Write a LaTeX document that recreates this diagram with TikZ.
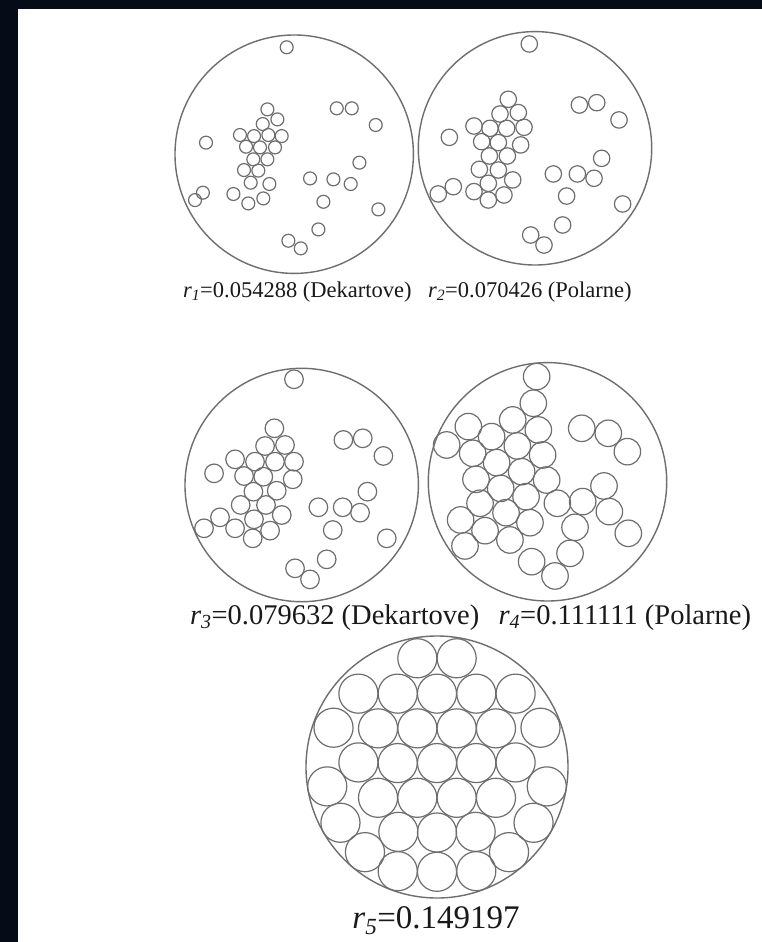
\documentclass[tikz,border=0pt]{standalone}
\usepackage{fontspec}
\setmainfont{Liberation Serif}
\definecolor{frame}{RGB}{6,11,24}
\definecolor{ink}{RGB}{25,25,25}
\definecolor{ring}{RGB}{110,110,110}
\newcommand\drawpack[5]{%
  \draw[bigring] (#1,#2) circle[radius=#3pt];
  \pgfmathsetmacro\smallr{#3*#4}%
  \foreach \u/\v in {#5} {\draw[smallring] ({#1+#3*\u},{#2+#3*\v}) circle[radius=\smallr pt];}%
}
\begin{document}
\begin{tikzpicture}[x=1pt,y=-1pt,
  bigring/.style={draw=ring,line width=1.4pt},
  smallring/.style={draw=ring,line width=1.2pt},
  lab/.style={text=ink,inner sep=0pt,outer sep=0pt}]
\fill[frame] (0,0) rectangle (762,942);
\fill[white] (18,9) rectangle (762,942);
\useasboundingbox (0,0) rectangle (762,942);
% circle 1
\drawpack{294.2}{154.2}{119.2}{0.054288}{-0.063/-0.897,-0.225/-0.376,-0.141/-0.292,-0.264/-0.253,-0.455/-0.161,-0.337/-0.152,-0.217/-0.161,-0.105/-0.152,-0.404/-0.063,-0.287/-0.057,-0.161/-0.057,-0.343/0.043,-0.225/0.043,-0.421/0.133,-0.301/0.138,-0.365/0.239,-0.208/0.250,-0.510/0.334,-0.385/0.413,-0.259/0.371,-0.740/-0.097,-0.832/0.385,-0.766/0.323,0.357/-0.385,0.483/-0.385,0.684/-0.245,0.547/0.071,0.133/0.203,0.329/0.211,0.474/0.250,0.245/0.399,0.706/0.463,0.203/0.631,-0.049/0.726,0.055/0.790}
% circle 2
\drawpack{535}{148.3}{116.7}{0.070426}{-0.049/-0.894,-0.229/-0.420,-0.300/-0.294,-0.143/-0.306,-0.523/-0.191,-0.386/-0.171,-0.243/-0.171,-0.094/-0.180,-0.457/-0.057,-0.314/-0.049,-0.123/-0.029,-0.391/0.066,-0.237/0.066,-0.477/0.180,-0.314/0.186,-0.400/0.300,-0.191/0.271,-0.523/0.371,-0.400/0.443,-0.266/0.400,-0.734/-0.094,-0.829/0.391,-0.700/0.329,0.380/-0.371,0.529/-0.391,0.720/-0.243,0.571/0.086,0.157/0.220,0.363/0.220,0.506/0.257,0.271/0.409,0.751/0.477,0.237/0.657,-0.037/0.743,0.077/0.829}
% circle 3
\drawpack{301.7}{485}{116.7}{0.079632}{-0.066/-0.906,-0.234/-0.486,-0.314/-0.334,-0.143/-0.343,-0.571/-0.220,-0.400/-0.200,-0.229/-0.200,-0.066/-0.200,-0.494/-0.077,-0.329/-0.071,-0.077/-0.049,-0.414/0.057,-0.214/0.049,-0.523/0.171,-0.306/0.171,-0.409/0.294,-0.171/0.257,-0.571/0.371,-0.420/0.457,-0.271/0.391,-0.751/-0.100,-0.837/0.371,-0.700/0.277,0.357/-0.386,0.523/-0.400,0.700/-0.249,0.563/0.057,0.143/0.191,0.351/0.191,0.500/0.237,0.266/0.386,0.729/0.457,0.214/0.637,-0.057/0.714,0.071/0.809}
% circle 4
\drawpack{547.5}{481.8}{119.2}{0.111111}{-0.091/-0.883,-0.119/-0.659,-0.292/-0.519,-0.077/-0.435,-0.664/-0.463,-0.846/-0.309,-0.469/-0.379,-0.253/-0.301,-0.628/-0.239,-0.041/-0.225,-0.427/-0.161,-0.217/-0.085,-0.600/-0.021,-0.007/-0.015,-0.393/0.055,-0.180/0.125,-0.566/0.180,0.083/0.180,0.295/0.166,0.474/0.035,0.519/0.250,0.678/0.432,-0.348/0.259,-0.147/0.343,-0.729/0.320,-0.524/0.410,-0.315/0.488,-0.692/0.538,0.231/0.382,0.189/0.600,-0.133/0.670,0.063/0.790,0.287/-0.449,0.510/-0.407,0.670/-0.253}
% circle 5
\drawpack{437}{767}{131}{0.149197}{-0.15/-0.83,0.15/-0.83,-0.6/-0.56,-0.3/-0.56,0/-0.56,0.3/-0.56,0.6/-0.56,-0.79/-0.30,-0.45/-0.295,-0.15/-0.295,0.15/-0.295,0.45/-0.295,0.79/-0.30,-0.6/-0.035,-0.3/-0.03,0/-0.03,0.3/-0.03,0.6/-0.035,-0.45/0.235,-0.15/0.235,0.15/0.235,0.45/0.235,-0.838/0.148,0.838/0.148,-0.737/0.4255,0.737/0.4255,-0.55/0.65,0.55/0.65,-0.295/0.495,0/0.50,0.295/0.495,-0.30/0.795,0/0.80,0.30/0.795}
% labels
\node[lab,anchor=base west,font=\fontsize{22.5}{26}\selectfont] (lab1) at (183,297) {\textit{r}\textsubscript{\textit{1}}=0.054288 (Dekartove)};
\node[lab,anchor=base west,font=\fontsize{22.5}{26}\selectfont] (lab2) at (428,297) {\textit{r}\textsubscript{\textit{2}}=0.070426 (Polarne)};
\node[lab,anchor=base west,font=\fontsize{28.5}{32}\selectfont] (lab3) at (190,624) {\textit{r}\textsubscript{\textit{3}}=0.079632 (Dekartove)};
\node[lab,anchor=base east,font=\fontsize{28.5}{32}\selectfont] (lab4) at (751,624) {\textit{r}\textsubscript{\textit{4}}=0.111111 (Polarne)};
\node[lab,anchor=base,font=\fontsize{33}{36}\selectfont] (lab5) at (436,928) {\textit{r}\textsubscript{\textit{5}}=0.149197};
\end{tikzpicture}
\end{document}
